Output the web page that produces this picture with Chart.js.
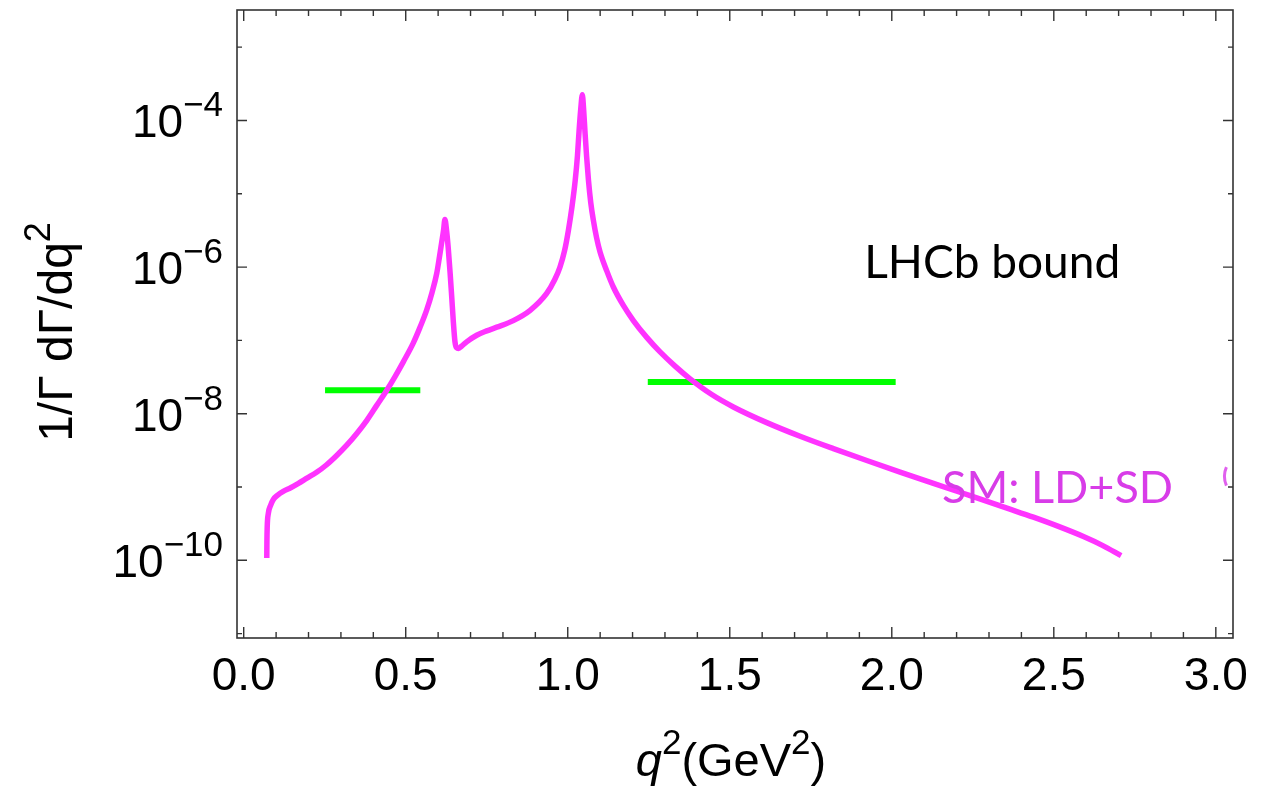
<!DOCTYPE html>
<html>
<head>
<meta charset="utf-8">
<title>Differential rate</title>
<script src="https://cdn.jsdelivr.net/npm/chart.js@4.4.0/dist/chart.umd.min.js"></script>
<style>
  html, body { margin: 0; padding: 0; background: #fff; }
  #wrap { width: 1276px; height: 787px; position: relative; }
</style>
</head>
<body>
<div id="wrap"><canvas id="rate"></canvas></div>
<script>
// q^2 in GeV^2 and log10 of (1/Gamma dGamma/dq^2) for the SM curve (LD+SD)
const smQ2 = [
  0.0712, 0.0716, 0.0725, 0.076, 0.083, 0.0914, 0.105, 0.122, 0.145, 0.169,
  0.195, 0.225, 0.255, 0.287, 0.318, 0.349, 0.380, 0.410, 0.441, 0.467,
  0.493, 0.5235, 0.544, 0.5648, 0.5812, 0.5957, 0.6043, 0.6111, 0.6167, 0.621,
  0.626, 0.631, 0.637, 0.642, 0.647, 0.652, 0.657, 0.663, 0.672, 0.688,
  0.719, 0.750, 0.781, 0.832, 0.884, 0.935, 0.960, 0.976, 0.990, 1.002,
  1.013, 1.023, 1.030, 1.035, 1.040, 1.045, 1.049, 1.053, 1.058, 1.064,
  1.071, 1.079, 1.089, 1.0997, 1.1204, 1.1407, 1.1716, 1.2025, 1.2438, 1.2849,
  1.3312, 1.3775, 1.4444, 1.5111, 1.6142, 1.717, 1.8198, 1.9228, 2.0256, 2.1284,
  2.2056, 2.2827, 2.3599, 2.437, 2.5142, 2.5914, 2.6497, 2.7077
];
const smLog = [
  -9.97, -9.75, -9.55, -9.36, -9.25, -9.17, -9.11, -9.06, -9.01, -8.95,
  -8.88, -8.80, -8.70, -8.57, -8.43, -8.27, -8.09, -7.89, -7.683, -7.494,
  -7.289, -7.034, -6.823, -6.584, -6.346, -6.086, -5.855, -5.660, -5.50, -5.35,
  -5.50, -5.73, -6.08, -6.41, -6.75, -7.02, -7.10, -7.11, -7.08, -7.02,
  -6.93, -6.87, -6.82, -6.73, -6.59, -6.36, -6.17, -6.00, -5.78, -5.50,
  -5.18, -4.82, -4.48, -4.14, -3.85, -3.65, -3.85, -4.14, -4.48, -4.82,
  -5.12, -5.36, -5.60, -5.794, -6.052, -6.272, -6.523, -6.729, -6.959, -7.157,
  -7.351, -7.525, -7.739, -7.908, -8.122, -8.308, -8.477, -8.639, -8.796, -8.950,
  -9.065, -9.179, -9.295, -9.412, -9.538, -9.676, -9.796, -9.937
];

// LHCb upper bounds: bin edges in q^2 and bound value
const lhcbLowBin = [0.251, 0.545];
const lhcbLowValue = 2.09e-8;
const lhcbHighBin = [1.247, 2.012];
const lhcbHighValue = 2.7e-8;

// axis ticks
const xTickValues = [0.0, 0.5, 1.0, 1.5, 2.0, 2.5, 3.0];
const xTickLabels = ['0.0', '0.5', '1.0', '1.5', '2.0', '2.5', '3.0'];
const yTickExponents = [-10, -8, -6, -4];
const yMinorExponents = [-11, -9, -7, -5, -3];

const X_MIN = -0.0207, X_MAX = 3.053;
const Y_MIN = Math.pow(10, -11.06), Y_MAX = Math.pow(10, -2.493);

const MAGENTA = '#ff33ff';
const GREEN = '#00ff00';
const FRAME = '#333333';
const AXIS_FONT = '"Liberation Sans", Arial, sans-serif';
const NOTE_FONT = 'Lato, "Open Sans", sans-serif';

const smPoints = smQ2.map((q, i) => ({ x: q, y: Math.pow(10, smLog[i]) }));
const lowPoints = lhcbLowBin.map(q => ({ x: q, y: lhcbLowValue }));
const highPoints = lhcbHighBin.map(q => ({ x: q, y: lhcbHighValue }));

// draws text pieces one after another (some raised as superscripts)
function supText(ctx, parts, x, y) {
  let cx = x;
  parts.forEach(p => {
    ctx.font = p.font;
    ctx.fillText(p.text, cx, y - (p.raise || 0));
    cx += ctx.measureText(p.text).width;
  });
  return cx;
}

function partsWidth(ctx, parts) {
  let w = 0;
  parts.forEach(p => { ctx.font = p.font; w += ctx.measureText(p.text).width; });
  return w;
}

const framePlugin = {
  id: 'frame',
  afterDatasetsDraw(chart) {
    const { ctx, chartArea: a, scales: { x, y } } = chart;
    ctx.save();

    // frame
    ctx.strokeStyle = FRAME;
    ctx.lineWidth = 1.6;
    ctx.strokeRect(a.left, a.top, a.right - a.left, a.bottom - a.top);

    // inward ticks on all four sides
    ctx.lineWidth = 1.4;
    ctx.beginPath();
    for (let i = 0; i <= 30; i++) {
      const px = x.getPixelForValue(i / 10);
      const len = (i % 5 === 0) ? 11 : 6;
      ctx.moveTo(px, a.bottom); ctx.lineTo(px, a.bottom - len);
      ctx.moveTo(px, a.top); ctx.lineTo(px, a.top + len);
    }
    yTickExponents.forEach(e => {
      const py = y.getPixelForValue(Math.pow(10, e));
      ctx.moveTo(a.left, py); ctx.lineTo(a.left + 10, py);
      ctx.moveTo(a.right, py); ctx.lineTo(a.right - 10, py);
    });
    yMinorExponents.forEach(e => {
      const py = y.getPixelForValue(Math.pow(10, e));
      ctx.moveTo(a.left, py); ctx.lineTo(a.left + 5, py);
      ctx.moveTo(a.right, py); ctx.lineTo(a.right - 5, py);
    });
    ctx.stroke();

    // x tick labels
    ctx.fillStyle = '#000';
    ctx.textBaseline = 'alphabetic';
    ctx.textAlign = 'center';
    ctx.font = '46px ' + AXIS_FONT;
    xTickValues.forEach((v, i) => {
      ctx.fillText(xTickLabels[i], x.getPixelForValue(v), a.bottom + 52);
    });

    // y tick labels: 10 with superscript exponent
    ctx.textAlign = 'left';
    yTickExponents.forEach(e => {
      const py = y.getPixelForValue(Math.pow(10, e));
      const parts = [
        { text: '10', font: '46px ' + AXIS_FONT },
        { text: '\u2212' + Math.abs(e), font: '35px ' + AXIS_FONT, raise: 21 }
      ];
      const w = partsWidth(ctx, parts);
      supText(ctx, parts, a.left - 14 - w, py + 17);
    });

    // x title
    const xt = [
      { text: 'q', font: 'italic 47px ' + AXIS_FONT },
      { text: '2', font: '35px ' + AXIS_FONT, raise: 22 },
      { text: '(GeV', font: '47px ' + AXIS_FONT },
      { text: '2', font: '35px ' + AXIS_FONT, raise: 22 },
      { text: ')', font: '47px ' + AXIS_FONT }
    ];
    const xcx = (a.left + a.right) / 2 - 4;
    supText(ctx, xt, xcx - partsWidth(ctx, xt) / 2, 776);

    // y title, rotated
    const yt = [
      { text: '1/\u0393 d\u0393/dq', font: '48px ' + AXIS_FONT },
      { text: '2', font: '36px ' + AXIS_FONT, raise: 22 }
    ];
    ctx.save();
    ctx.translate(72, 332);
    ctx.rotate(-Math.PI / 2);
    supText(ctx, yt, -partsWidth(ctx, yt) / 2, 0);
    ctx.restore();

    // notes
    ctx.font = '46px ' + NOTE_FONT;
    ctx.fillStyle = '#000';
    ctx.fillText('LHCb bound', x.getPixelForValue(1.915), y.getPixelForValue(Math.pow(10, -6.155)));
    ctx.font = '45px ' + NOTE_FONT;
    ctx.fillStyle = '#d83ce8';
    ctx.fillText('SM: LD+SD', x.getPixelForValue(2.155), y.getPixelForValue(Math.pow(10, -9.22)));

    // small stray mark near the right edge
    const sx = x.getPixelForValue(3.028);
    const sy0 = y.getPixelForValue(Math.pow(10, -8.73));
    const sy1 = y.getPixelForValue(Math.pow(10, -8.98));
    ctx.strokeStyle = '#e060ee';
    ctx.lineWidth = 3;
    ctx.beginPath();
    ctx.moveTo(sx + 1.5, sy0);
    ctx.quadraticCurveTo(sx - 2.5, (sy0 + sy1) / 2, sx + 1.5, sy1);
    ctx.stroke();

    ctx.restore();
  }
};

new Chart(document.getElementById('rate'), {
  type: 'line',
  data: {
    datasets: [
      {
        label: 'SM: LD+SD',
        data: smPoints,
        borderColor: MAGENTA,
        borderWidth: 5.5,
        pointRadius: 0,
        cubicInterpolationMode: 'monotone',
        borderCapStyle: 'butt',
        borderJoinStyle: 'round',
        fill: false
      },
      {
        label: 'LHCb bound (low bin)',
        data: lowPoints,
        borderColor: GREEN,
        borderWidth: 6,
        pointRadius: 0,
        borderCapStyle: 'butt',
        fill: false
      },
      {
        label: 'LHCb bound (high bin)',
        data: highPoints,
        borderColor: GREEN,
        borderWidth: 6,
        pointRadius: 0,
        borderCapStyle: 'butt',
        fill: false
      }
    ]
  },
  options: {
    responsive: true,
    maintainAspectRatio: false,
    animation: false,
    layout: { padding: { left: 237, top: 10, right: 43, bottom: 149 } },
    plugins: { legend: { display: false }, tooltip: { enabled: false } },
    scales: {
      x: { type: 'linear', min: X_MIN, max: X_MAX, display: false },
      y: { type: 'logarithmic', min: Y_MIN, max: Y_MAX, display: false }
    }
  },
  plugins: [framePlugin]
});
</script>
</body>
</html>
